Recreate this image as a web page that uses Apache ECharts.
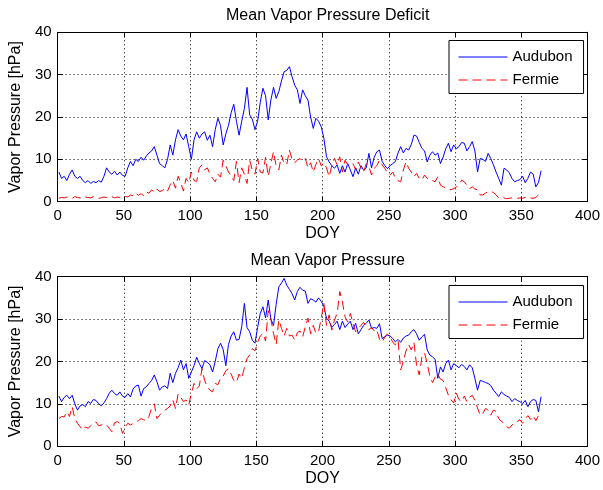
<!DOCTYPE html>
<html>
<head>
<meta charset="utf-8">
<script src="https://cdn.jsdelivr.net/npm/echarts@6/dist/echarts.min.js"></script>
<style>
  html, body { margin: 0; padding: 0; background: #fff; }
  #chart { width: 603px; height: 490px; }
</style>
</head>
<body>
<div id="chart"></div>
<script>
// Day-of-year sampling grid (every second day, 1..365)
const doy = [];
for (let d = 1; d <= 365; d += 2) doy.push(d);

const seriesNames = ['Audubon', 'Fermie'];
const xTicks = [0, 50, 100, 150, 200, 250, 300, 350, 400];
const yTicks = [0, 10, 20, 30, 40];

// Mean vapor pressure deficit [hPa]
const vpdAudubon = [
  7, 5.5, 6, 5, 6.5, 7.5, 6, 5.5, 6, 5, 4.5, 5, 4.3, 4.8, 4.5, 5, 4.6, 6, 8, 7, 6.5, 7.2, 6.3, 7, 6.2,
  6, 8, 9.5, 8.5, 10, 9.5, 10.5, 9.8, 10.8, 11.5, 12, 13, 11, 9, 8.5, 8, 10, 13.4, 11, 14.6, 17, 15.5, 14.6, 16, 13,
  10, 14.6, 16.5, 15, 16, 16.5, 14.5, 15.7, 13, 17, 19.7, 18, 13.4, 16, 18, 21, 23, 19, 15.7, 19, 22, 27, 20.5, 19.5, 17,
  19, 23.5, 26.8, 25, 19.3, 24, 27, 24.4, 26, 28.5, 30.7, 31, 31.9, 29.5, 27.5, 26.4, 23.2, 26.4, 25, 24, 20, 17.3, 19.7, 19, 17.7,
  15, 10.6, 9.4, 8.5, 7.9, 8.7, 6.7, 8.5, 7, 9, 7.5, 5.9, 8, 6.5, 8.5, 7.5, 8, 11.4, 8, 10.5, 11.8, 12.2, 9.5, 8.5, 7.8,
  8.5, 9, 9.5, 11.5, 13, 11.5, 12.6, 12.2, 13.5, 15.7, 15.5, 14, 12.6, 12, 9.4, 11, 11.8, 11, 11.5, 9, 10.5, 12.5, 13.8, 11.8, 13.4,
  12.5, 13, 14, 13.8, 12, 13, 14.2, 12, 7, 10.2, 10, 9.5, 11.4, 10.2, 8.7, 7, 5.5, 3.9, 7.9, 7.5, 6.8, 5.5, 4.7, 5, 5.2,
  6, 4.5, 5.5, 7, 6.5, 3.5, 4.5, 7.3
];
const vpdFermie = [
  0.8, 1.0, 0.9, 1.1, 1.0, 0.8, 1.2, 1.0, 0.9, 0.7, 1.1, 1.0, 0.9, 1.2, 1.0, 0.8, 0.9, 1.1, 1.0, 0.8, 1.2, 0.9, 1.1, 1.0, 1.2,
  1.3, 1.1, 1.6, 1.4, 2.0, 1.5, 1.9, 1.4, 2.3, 2.0, 2.8, 2.2, 3.0, 2.4, 2.6, 3.2, 2.5, 4.0, 5.0, 3.2, 6.0, 4.5, 2.5, 5.5, 4.5,
  7.0, 5.0, 4.8, 8.0, 8.7, 7.5, 8.0, 6.5, 5.5, 4.7, 6.5, 5.8, 9.8, 8.5, 7.0, 6.0, 5.0, 9.5, 4.5, 8.0, 6.5, 4.3, 9.8, 7.5, 6.5,
  10.2, 7.0, 6.8, 10.5, 6.0, 9.0, 11.8, 8.5, 7.5, 11.0, 9.0, 8.8, 12.2, 10.0, 9.2, 9.8, 10.2, 9.5, 10.2, 8.0, 9.2, 7.0, 8.8, 10.2, 8.5,
  9.2, 8.0, 5.9, 8.5, 10.2, 8.7, 10.6, 7.0, 9.8, 8.7, 9.0, 9.0, 7.5, 9.4, 8.0, 7.0, 9.0, 8.3, 6.3, 7.9, 8.5, 9.8, 8.7, 7.9, 6.8,
  6.3, 7.0, 5.5, 5.0, 4.7, 7.5, 9.4, 7.9, 7.0, 5.9, 6.7, 5.5, 5.1, 6.3, 5.5, 5.5, 5.0, 4.7, 5.9, 3.9, 3.5, 3.3, 3.1, 2.8, 3.1,
  3.5, 3.9, 5.1, 4.7, 3.9, 3.1, 3.5, 3.0, 2.8, 1.6, 1.6, 2.0, 2.4, 2.4, 2.2, 1.6, 0.9, 0.8, 0.9, 0.7, 0.8, 0.9, 0.7, 0.8, 0.9,
  0.8, 1.0, 0.7, 0.9, 0.8, 1.0, 1.6, 1.3
];

// Mean vapor pressure [hPa]
const vpAudubon = [
  11.8, 10.5, 11.5, 12, 11.2, 12, 10, 8.5, 9.5, 9.8, 9.3, 10.5, 10.1, 11, 10.8, 10, 9.5, 10.2, 11.2, 12.5, 13.2, 12.4, 12, 12.8, 11.8,
  11.5, 12.4, 11.6, 13.5, 14.2, 14.4, 11.8, 13.6, 14, 14.8, 15.5, 16.8, 15.2, 13.2, 14, 14.2, 13.6, 17.2, 15, 17.2, 18.5, 20.3, 18, 19.5, 16,
  17.5, 19, 21, 19.5, 18.3, 20.2, 19.8, 19.2, 17.5, 20, 23, 24.3, 22.8, 19, 24, 26, 27, 25, 25.2, 28.2, 33.7, 28, 27, 25, 24.3,
  28, 31.3, 32.9, 30.3, 34.5, 30, 28.5, 33.5, 37.6, 38.5, 39.6, 38, 37, 36, 34.5, 36.5, 37.5, 36.8, 36.6, 33.7, 34.8, 34.5, 34, 35, 34.2,
  33, 30.2, 29.5, 28, 28.7, 29.5, 27.5, 29.5, 28, 28.8, 29.5, 27.5, 29, 26.5, 27.5, 28.5, 29, 29.8, 27.8, 28, 27.8, 28.9, 25.4, 25.8, 26.2,
  26, 25.4, 24.6, 25.2, 24.5, 25.5, 26, 26.2, 27, 27.5, 26.5, 25, 25.8, 26.4, 22.7, 21.5, 21.1, 20.5, 16, 18.7, 17.5, 19.5, 20.3, 18, 19.5,
  19, 18.5, 19.3, 18.8, 18, 19.2, 18.5, 16, 13.2, 15.5, 15.3, 15, 14.8, 14.3, 13.2, 12.5, 11.7, 12.8, 12.2, 11.8, 11.5, 10.5, 11.2, 10.8, 10.5,
  10, 10.8, 9.3, 10.5, 11, 10.8, 8.1, 11.7
];
const vpFermie = [
  6.5, 7, 6.9, 8.1, 7, 9.3, 6.5, 5.4, 4.6, 3.8, 4.5, 4.2, 4.8, 5.3, 5.7, 4.8, 5, 5.2, 5, 4.2, 3.4, 5.5, 5.8, 5.3, 3,
  4.5, 5.4, 5.0, 5.3, 5.7, 6, 6.5, 6.2, 6, 7, 9, 10, 6.5, 7.3, 8.1, 8.5, 8.9, 9.5, 10.9, 8.9, 12.3, 11.5, 10.5, 10.9, 9.7,
  12.5, 14.8, 13.5, 14.2, 18.3, 15.5, 14, 13.2, 12.8, 14.8, 14.5, 16, 16.5, 17.8, 18.3, 17, 15.5, 15, 17, 16, 18.5, 20.7, 21.5, 23, 22.5,
  24.5, 26, 26.6, 24.8, 32, 30, 26.6, 24, 29.8, 27.8, 26, 27.8, 26, 26.2, 25, 26.8, 27.2, 25.8, 28.2, 30.2, 26.5, 28.5, 26.6, 27, 30.2,
  33.7, 28.5, 31, 27.4, 29.8, 31.3, 36.5, 34, 30.5, 29.3, 31.3, 29, 27, 27.8, 28.5, 29.2, 28.3, 27.5, 28, 27.2, 27.5, 25.2, 24.5, 25.8, 26.5,
  25.8, 24.5, 23.9, 25, 18, 20, 22.5, 24, 22.7, 24.5, 19, 16.8, 21, 22, 19.5, 16.5, 15, 16.3, 17, 15.8, 15.5, 13.8, 12, 10.9, 10.2,
  12.5, 11, 10.5, 11.8, 10.5, 11.5, 12, 10.8, 9, 7.3, 7.7, 8.9, 8.5, 7.3, 8.5, 8.2, 6.5, 5.8, 5.4, 4.6, 4.2, 5, 5.4, 5.8, 6.2,
  5.4, 6.5, 7.2, 6.3, 7.2, 6.0, 7.2, 7.9
];

const FONT = "'Liberation Sans', Arial, Helvetica, sans-serif";
const BLUE = '#0000ff';
const RED = '#ff0000';
const DASH = [9, 5];

const grids = [
  { left: 56, top: 32.3, width: 533.3, height: 169.4 },
  { left: 56, top: 276.7, width: 533.3, height: 169.4 }
];

function pairs(values) {
  return doy.map((d, i) => [d, values[i]]);
}

const labelStyle = { color: '#000', fontSize: 15, fontFamily: FONT };
const dotted = { show: true, lineStyle: { color: '#000', width: 1, type: [1, 3] } };

function xAxes(gi) {
  return [
    {
      gridIndex: gi, type: 'value', min: xTicks[0], max: xTicks[xTicks.length - 1], interval: 50,
      position: 'bottom',
      axisLine: { show: true, onZero: false, lineStyle: { color: '#000', width: 1 } },
      axisTick: { show: true, inside: true, length: 5, lineStyle: { color: '#000' } },
      axisLabel: Object.assign({ margin: 7 }, labelStyle),
      splitLine: dotted,
      name: 'DOY', nameLocation: 'middle', nameGap: 24,
      nameTextStyle: { color: '#000', fontSize: 16, fontFamily: FONT }
    },
    {
      gridIndex: gi, type: 'value', min: xTicks[0], max: xTicks[xTicks.length - 1], interval: 50,
      position: 'top',
      axisLine: { show: true, onZero: false, lineStyle: { color: '#000', width: 1 } },
      axisTick: { show: true, inside: true, length: 5, lineStyle: { color: '#000' } },
      axisLabel: { show: false },
      splitLine: { show: false }
    }
  ];
}

function yAxes(gi) {
  return [
    {
      gridIndex: gi, type: 'value', min: yTicks[0], max: yTicks[yTicks.length - 1], interval: 10,
      position: 'left',
      axisLine: { show: true, onZero: false, lineStyle: { color: '#000', width: 1 } },
      axisTick: { show: true, inside: true, length: 5, lineStyle: { color: '#000' } },
      axisLabel: Object.assign({ margin: 6 }, labelStyle),
      splitLine: dotted,
      name: 'Vapor Pressure [hPa]', nameLocation: 'middle', nameGap: 31, nameRotate: 90,
      nameTextStyle: { color: '#000', fontSize: 16, fontFamily: FONT }
    },
    {
      gridIndex: gi, type: 'value', min: yTicks[0], max: yTicks[yTicks.length - 1], interval: 10,
      position: 'right',
      axisLine: { show: true, onZero: false, lineStyle: { color: '#000', width: 1 } },
      axisTick: { show: true, inside: true, length: 5, lineStyle: { color: '#000' } },
      axisLabel: { show: false },
      splitLine: { show: false }
    }
  ];
}

function lineSeries(name, gi, values, color, dashed) {
  return {
    type: 'line', name: name,
    xAxisIndex: gi * 2, yAxisIndex: gi * 2,
    data: pairs(values),
    symbol: 'none', showSymbol: false, smooth: false,
    lineStyle: { color: color, width: 1, type: dashed ? DASH : 'solid' },
    itemStyle: { color: color },
    emphasis: { disabled: true },
    z: dashed ? 3 : 2
  };
}

const hiddenMarker = { color: 'transparent', borderColor: 'transparent', borderWidth: 0, opacity: 0 };

function legendAt(top) {
  return {
    data: [
      { name: seriesNames[0], itemStyle: hiddenMarker,
        lineStyle: { color: BLUE, width: 1, type: 'solid', opacity: 1 } },
      { name: seriesNames[1], itemStyle: hiddenMarker,
        lineStyle: { color: RED, width: 1, type: DASH, opacity: 1 } }
    ],
    orient: 'vertical', left: 449, top: top,
    itemWidth: 49, itemHeight: 14, itemGap: 8,
    padding: [9, 11, 6, 9],
    backgroundColor: '#fff', borderColor: '#000', borderWidth: 1,
    textStyle: { color: '#000', fontSize: 15, fontFamily: FONT, padding: [0, 0, 0, 0] },
    selectedMode: false
  };
}

const chart = echarts.init(document.getElementById('chart'), null, { renderer: 'canvas' });
chart.setOption({
  animation: false,
  backgroundColor: '#fff',
  textStyle: { fontFamily: FONT },
  title: [
    { text: 'Mean Vapor Pressure Deficit', left: 322.7, top: 3, textAlign: 'center',
      textStyle: { color: '#000', fontSize: 16, fontWeight: 'normal', fontFamily: FONT } },
    { text: 'Mean Vapor Pressure', left: 322.7, top: 247.5, textAlign: 'center',
      textStyle: { color: '#000', fontSize: 16, fontWeight: 'normal', fontFamily: FONT } }
  ],
  grid: grids,
  xAxis: xAxes(0).concat(xAxes(1)),
  yAxis: yAxes(0).concat(yAxes(1)),
  legend: [legendAt(40.5), legendAt(285.5)],
  series: [
    lineSeries('Audubon', 0, vpdAudubon, BLUE, false),
    lineSeries('Fermie', 0, vpdFermie, RED, true),
    lineSeries('Audubon', 1, vpAudubon, BLUE, false),
    lineSeries('Fermie', 1, vpFermie, RED, true)
  ]
});
</script>
</body>
</html>
